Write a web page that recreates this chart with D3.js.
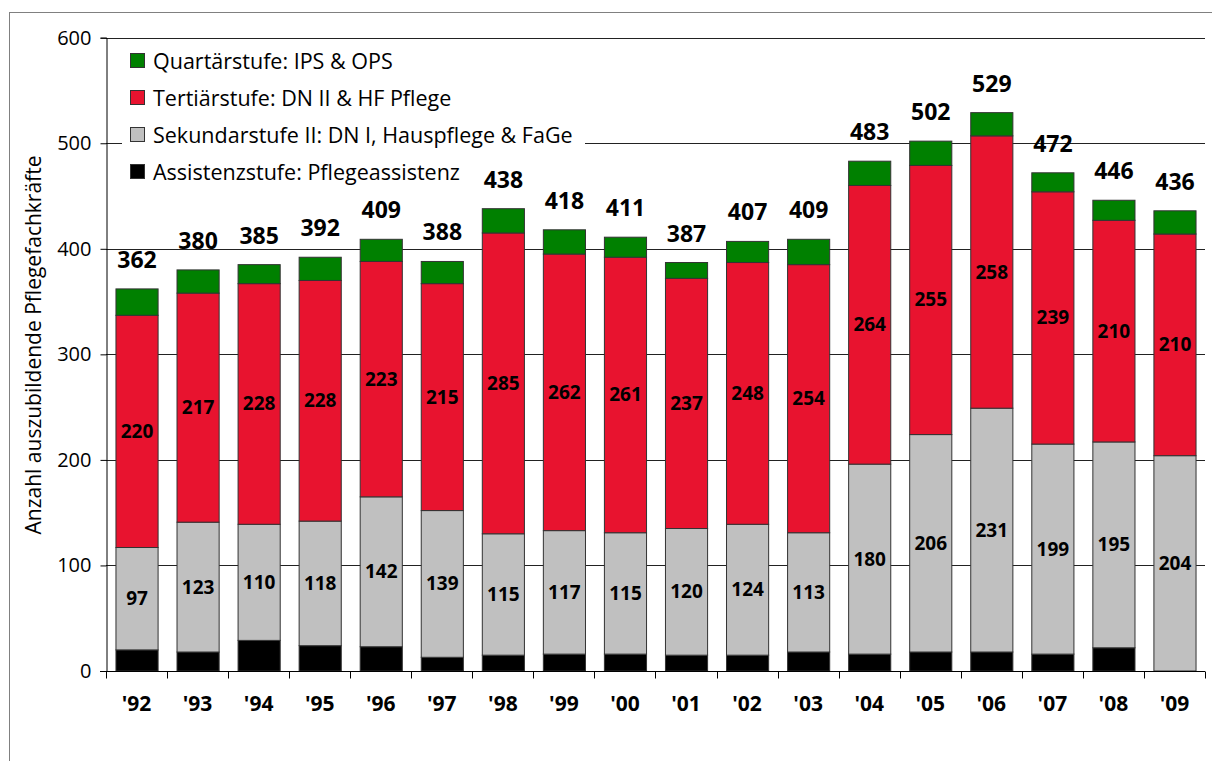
<!DOCTYPE html>
<html><head><meta charset="utf-8">
<script src="https://cdn.jsdelivr.net/npm/d3@7"></script>
<style>
html,body{margin:0;padding:0;background:#fff;}
svg{display:block;font-family:"Open Sans","Noto Sans",sans-serif;}
</style></head>
<body>
<svg id="chart" width="1212" height="761"></svg>
<script>
const years = ["'92","'93","'94","'95","'96","'97","'98","'99","'00","'01","'02","'03","'04","'05","'06","'07","'08","'09"];
const assistenz = [20,18,29,24,23,13,15,16,16,15,15,18,16,18,18,16,22,0];
const sekundar = [97,123,110,118,142,139,115,117,115,120,124,113,180,206,231,199,195,204];
const tertiaer = [220,217,228,228,223,215,285,262,261,237,248,254,264,255,258,239,210,210];
const totals = [362,380,385,392,409,388,438,418,411,387,407,409,483,502,529,472,446,436];
const quartaer = [25,22,18,22,21,21,23,23,19,15,20,24,23,23,22,18,19,22];
const yTicks = [0,100,200,300,400,500,600];
const seriesNames = ["Quartärstufe: IPS & OPS","Tertiärstufe: DN II & HF Pflege","Sekundarstufe II: DN I, Hauspflege & FaGe","Assistenzstufe: Pflegeassistenz"];
const yTitle = "Anzahl auszubildende Pflegefachkräfte";

const colors = {assistenz:"#000000", sekundar:"#c0c0c0", tertiaer:"#e8132f", quartaer:"#008000"};
const keys = ["assistenz","sekundar","tertiaer","quartaer"];

const svg = d3.select("#chart");
// outer frame
svg.append("rect").attr("x",9.5).attr("y",12.5).attr("width",1300).attr("height",900)
  .attr("fill","none").attr("stroke","#808080").attr("stroke-width",1);

const x = d3.scaleBand().domain(years).range([106,1205]).paddingInner(0.31).paddingOuter(0.155);
const y = d3.scaleLinear().domain([0,600]).range([671,37.7]);

// gridlines
svg.append("g").selectAll("line").data(yTicks.filter(d=>d>0)).join("line")
  .attr("x1",106).attr("x2",1205)
  .attr("y1",d=>Math.round(y(d))+0.5).attr("y2",d=>Math.round(y(d))+0.5)
  .attr("stroke","#222").attr("stroke-width",1);

// legend background
svg.append("rect").attr("x",122).attr("y",44).attr("width",463).attr("height",146).attr("fill","#fff");

// data rows
const rows = years.map((yr,i)=>({year:yr, assistenz:assistenz[i], sekundar:sekundar[i], tertiaer:tertiaer[i], quartaer:quartaer[i], total:totals[i]}));
const stack = d3.stack().keys(keys)(rows);

const g = svg.append("g");
stack.forEach(layer=>{
  g.append("g").selectAll("rect").data(layer).join("rect")
    .attr("x",d=>x(d.data.year)+0.5)
    .attr("width",x.bandwidth())
    .attr("y",d=>y(d[1]))
    .attr("height",d=>Math.max(0,y(d[0])-y(d[1])))
    .attr("fill",colors[layer.key])
    .attr("stroke","#333").attr("stroke-width",1);
});

// segment labels
["sekundar","tertiaer"].forEach(k=>{
  const layer = stack.find(l=>l.key===k);
  g.append("g").selectAll("text").data(layer).join("text")
    .attr("x",d=>x(d.data.year)+x.bandwidth()/2+0.5)
    .attr("y",d=>y((d[0]+d[1])/2)+6.5)
    .attr("text-anchor","middle")
    .attr("font-size",19).attr("font-weight","bold")
    .text(d=>d.data[k]);
});

// totals
g.append("g").selectAll("text").data(rows).join("text")
  .attr("x",d=>x(d.year)+x.bandwidth()/2+0.5)
  .attr("y",d=>y(d.total)-21)
  .attr("text-anchor","middle")
  .attr("font-size",23).attr("font-weight","bold")
  .text(d=>d.total);

// y axis
const yAxis = svg.append("g").attr("transform","translate(106.5,0)")
  .call(d3.axisLeft(y).tickValues(yTicks).tickSize(6).tickPadding(9).tickFormat(d3.format("d")));
yAxis.select(".domain").attr("stroke","#000");
yAxis.selectAll(".tick line").attr("stroke","#000");
yAxis.selectAll("text").attr("font-size",20).attr("font-family","'Open Sans',sans-serif").attr("fill","#000");

// x axis
const xAxis = svg.append("g").attr("transform","translate(0,671.5)");
xAxis.append("line").attr("x1",100).attr("x2",1205).attr("y1",0).attr("y2",0).attr("stroke","#000");
const bounds = years.map(d=>x(d)-x.step()*x.paddingInner()/2).concat([1205]);
xAxis.selectAll("line.t").data(bounds).join("line").attr("class","t")
  .attr("x1",d=>Math.round(d)+0.5).attr("x2",d=>Math.round(d)+0.5).attr("y1",0).attr("y2",7).attr("stroke","#000");
xAxis.selectAll("text").data(years).join("text")
  .attr("x",d=>x(d)+x.bandwidth()/2)
  .attr("y",39)
  .attr("text-anchor","middle")
  .attr("font-size",21).attr("font-weight","bold")
  .text(d=>d);

// y title
svg.append("text").attr("transform","translate(41,345) rotate(-90)")
  .attr("text-anchor","middle").attr("font-size",21).text(yTitle);

// legend
const legColors = [colors.quartaer, colors.tertiaer, colors.sekundar, colors.assistenz];
const leg = svg.append("g");
seriesNames.forEach((n,i)=>{
  const cy = 61 + i*37;
  leg.append("rect").attr("x",130.5).attr("y",cy-7.5).attr("width",14).attr("height",14)
    .attr("fill",legColors[i]).attr("stroke","#333").attr("stroke-width",1);
  leg.append("text").attr("x",153).attr("y",cy+7.5).attr("font-size",21.5).text(n);
});
</script>
</body></html>
